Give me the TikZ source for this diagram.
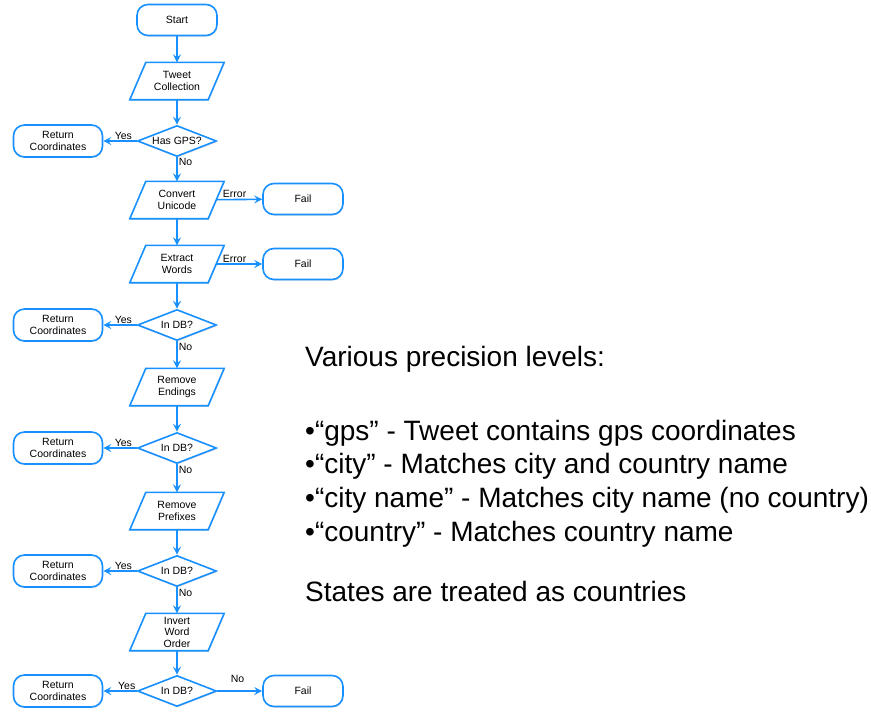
\documentclass[tikz,border=0pt]{standalone}
\usepackage{fontspec}
\setmainfont{Liberation Sans}
\usepackage{xcolor}
\usepackage{tikz}
\usetikzlibrary{shapes.geometric, arrows.meta, shadows, backgrounds}

\definecolor{flowblue}{RGB}{24,144,255}

\begin{document}
\begin{tikzpicture}[x=1pt, y=-1pt,
        every node/.style={font=\fontsize{10.5}{12}\selectfont, align=center},
        shade/.style={drop shadow={opacity=0.25, shadow xshift=0.6pt, shadow yshift=-1.2pt}},
        box/.style={draw=flowblue, line width=1.6pt, fill=white, rectangle, rounded corners=11pt,
                minimum width=80pt, minimum height=31pt, inner sep=0pt, shade},
        retbox/.style={box, minimum width=89pt, minimum height=32pt},
        io/.style={rectangle, minimum width=78pt, minimum height=37pt, inner sep=0pt},
        iobox/.style={draw=flowblue, line width=1.6pt, fill=white, line join=miter, shade},
        test/.style={draw=flowblue, line width=1.6pt, fill=white, diamond, aspect=2.5,
                minimum width=79pt, minimum height=31pt, inner sep=0pt, shade},
        arr/.style={draw=flowblue, line width=1.6pt,
                -{Stealth[length=8pt, width=8pt, inset=3pt]}},
        lbl/.style={inner sep=1pt, fill=none}]
        \useasboundingbox (0,0) rectangle (871,715);

        % flow chart
        \node[box] (start) at (177,20) {Start};
        \node[io] (tweet) at (177,81) {Tweet\\Collection};
        \node[test] (gps) at (177,141) {Has GPS?};
        \node[retbox] (ret1) at (58,141) {Return\\Coordinates};
        \node[io] (uni) at (177,200) {Convert\\Unicode};
        \node[box] (fail1) at (303,199) {Fail};
        \node[io] (words) at (177,264) {Extract\\Words};
        \node[box] (fail2) at (303,264) {Fail};
        \node[test] (db1) at (177,325) {In DB?};
        \node[retbox] (ret2) at (58,325) {Return\\Coordinates};
        \node[io] (ends) at (177,387) {Remove\\Endings};
        \node[test] (db2) at (177,448) {In DB?};
        \node[retbox] (ret3) at (58,448) {Return\\Coordinates};
        \node[io] (pre) at (177,511) {Remove\\Prefixes};
        \node[test] (db3) at (177,571) {In DB?};
        \node[retbox] (ret4) at (58,571) {Return\\Coordinates};
        \node[io, font=\fontsize{10.5}{11.5}\selectfont] (inv) at (177,632) {Invert\\Word\\Order};
        \node[test] (db4) at (177,691) {In DB?};
        \node[retbox] (ret5) at (58,691) {Return\\Coordinates};
        \node[box] (fail3) at (303,691) {Fail};

        % parallelograms behind the step texts
        \begin{scope}[on background layer]
                \foreach \n in {tweet, uni, words, ends, pre, inv}
                \draw[iobox] ([xshift=-8pt]\n.south west) -- ([xshift=-8pt]\n.south east)
                        -- ([xshift=8pt]\n.north east) -- ([xshift=8pt]\n.north west) -- cycle;
        \end{scope}

        \draw[arr] (start) -- (tweet);
        \draw[arr] (tweet) -- (gps);
        \draw[arr] (gps) -- node[lbl, pos=0.4, above] {Yes} (ret1);
        \draw[arr] (gps) -- node[lbl, pos=0.2, right] {No} (uni);
        \draw[arr] (uni) -- node[lbl, pos=0.4, above] {Error} (fail1);
        \draw[arr] (uni) -- (words);
        \draw[arr] (words) -- node[lbl, pos=0.4, above] {Error} (fail2);
        \draw[arr] (words) -- (db1);
        \draw[arr] (db1) -- node[lbl, pos=0.4, above] {Yes} (ret2);
        \draw[arr] (db1) -- node[lbl, pos=0.2, right] {No} (ends);
        \draw[arr] (ends) -- (db2);
        \draw[arr] (db2) -- node[lbl, pos=0.4, above] {Yes} (ret3);
        \draw[arr] (db2) -- node[lbl, pos=0.2, right] {No} (pre);
        \draw[arr] (pre) -- (db3);
        \draw[arr] (db3) -- node[lbl, pos=0.4, above] {Yes} (ret4);
        \draw[arr] (db3) -- node[lbl, pos=0.2, right] {No} (inv);
        \draw[arr] (inv) -- (db4);
        \draw[arr] (db4) -- node[lbl, pos=0.3, above] {Yes} (ret5);
        \draw[arr] (db4) -- node[lbl, pos=0.45, above=7pt] {No} (fail3);

        % notes on the right
        \begin{scope}[every node/.style={font=\fontsize{28}{33}\selectfont, anchor=base west, inner sep=0pt}]
                \node (levels) at (305,366) {Various precision levels:};
                \node (gpsline) at (305,440) {•“gps” - Tweet contains gps coordinates};
                \node (cityline) at (305,473) {•“city” - Matches city and country name};
                \node (nameline) at (305,507) {•“city name” - Matches city name (no country)};
                \node (countryline) at (305,541) {•“country” - Matches country name};
                \node (states) at (305,601) {States are treated as countries};
        \end{scope}
\end{tikzpicture}
\end{document}
